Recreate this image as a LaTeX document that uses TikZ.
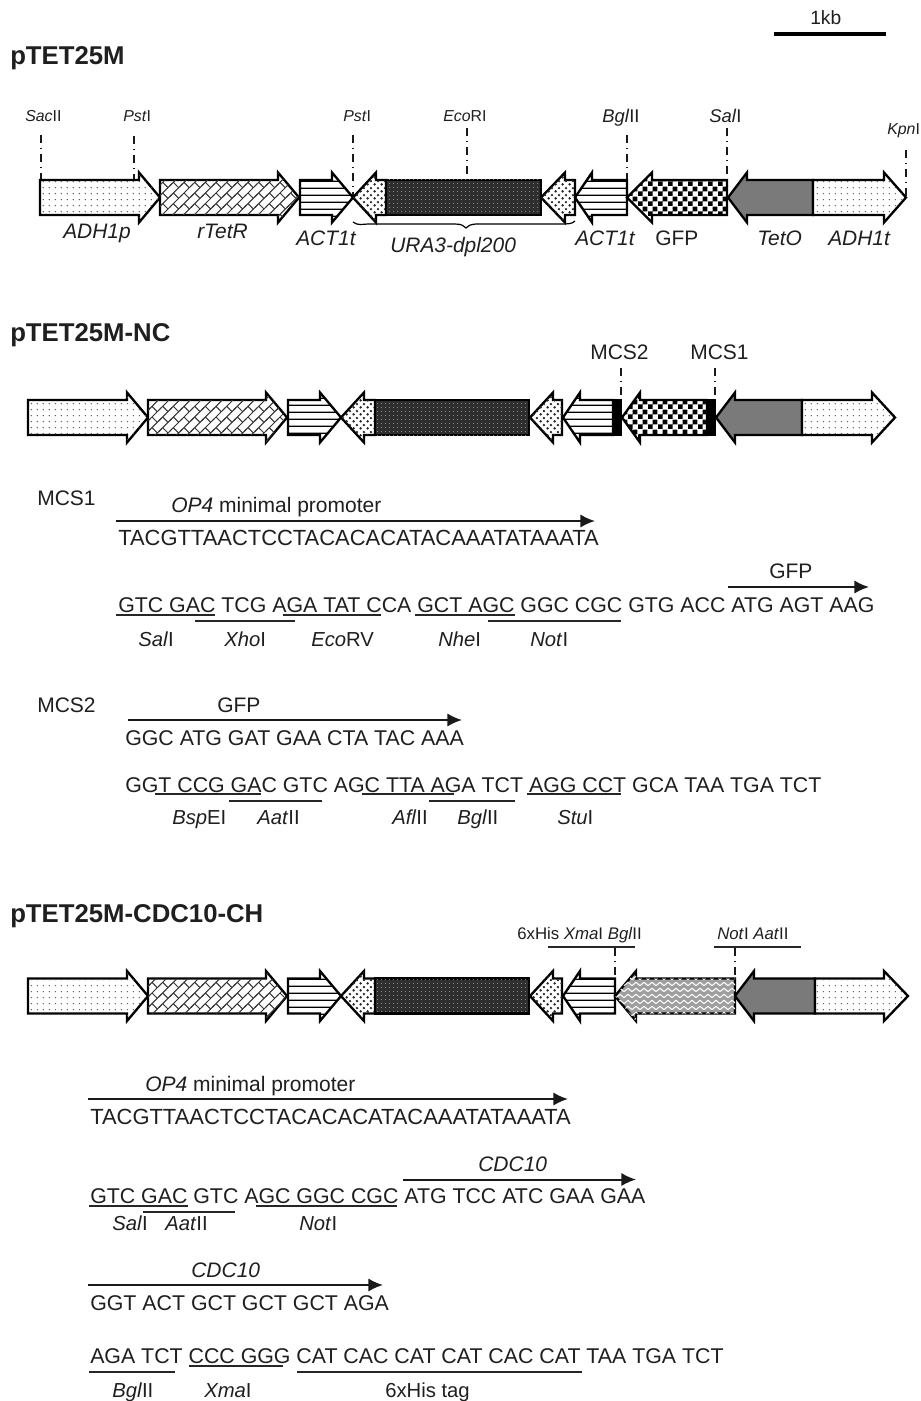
\documentclass[tikz,border=0pt]{standalone}
\usepackage{fontspec}
\setmainfont{Liberation Sans}
\usetikzlibrary{patterns,arrows.meta}
\pgfdeclarepatternformonly{pdots}{\pgfqpoint{-1pt}{-1pt}}{\pgfqpoint{5pt}{5pt}}{\pgfqpoint{4.5pt}{4.5pt}}{
  \pgfpathcircle{\pgfqpoint{1pt}{1pt}}{0.55pt}\pgfusepath{fill}}
\pgfdeclarepatternformonly{pweave}{\pgfqpoint{-1pt}{-3pt}}{\pgfqpoint{9pt}{9pt}}{\pgfqpoint{8pt}{8pt}}{
  \pgfsetlinewidth{0.75pt}
  \pgfpathmoveto{\pgfqpoint{-1pt}{-1pt}}\pgfpathlineto{\pgfqpoint{9pt}{9pt}}
  \pgfpathmoveto{\pgfqpoint{2pt}{2pt}}\pgfpathlineto{\pgfqpoint{6pt}{-2pt}}
  \pgfusepath{stroke}}
\pgfdeclarepatternformonly{phlines}{\pgfqpoint{0pt}{0pt}}{\pgfqpoint{40pt}{5.25pt}}{\pgfqpoint{40pt}{5.25pt}}{
  \pgfpathrectangle{\pgfqpoint{0pt}{1pt}}{\pgfqpoint{40pt}{1pt}}\pgfusepath{fill}}
\pgfdeclarepatternformonly{pcheck}{\pgfqpoint{0pt}{0pt}}{\pgfqpoint{7.6pt}{7.6pt}}{\pgfqpoint{7.6pt}{7.6pt}}{
  \pgfpathrectangle{\pgfqpoint{0pt}{0pt}}{\pgfqpoint{3.8pt}{3.8pt}}
  \pgfpathrectangle{\pgfqpoint{3.8pt}{3.8pt}}{\pgfqpoint{3.8pt}{3.8pt}}\pgfusepath{fill}}
\pgfdeclarepatternformonly{pgrid}{\pgfqpoint{0pt}{0pt}}{\pgfqpoint{3pt}{3pt}}{\pgfqpoint{3pt}{3pt}}{
  \pgfpathcircle{\pgfqpoint{1.5pt}{1.5pt}}{0.5pt}\pgfusepath{fill}}
\pgfdeclarepatternformonly{pbig}{\pgfqpoint{0pt}{0pt}}{\pgfqpoint{5.4pt}{5.4pt}}{\pgfqpoint{5.4pt}{5.4pt}}{
  \pgfpathcircle{\pgfqpoint{1.35pt}{1.35pt}}{1.1pt}
  \pgfpathcircle{\pgfqpoint{4.05pt}{4.05pt}}{1.1pt}\pgfusepath{fill}}
\pgfdeclarepatternformonly{pzig}{\pgfqpoint{0pt}{-1pt}}{\pgfqpoint{6pt}{5pt}}{\pgfqpoint{6pt}{4.5pt}}{
  \pgfsetlinewidth{0.8pt}
  \pgfpathmoveto{\pgfqpoint{0pt}{1pt}}\pgfpathlineto{\pgfqpoint{3pt}{3.5pt}}\pgfpathlineto{\pgfqpoint{6pt}{1pt}}
  \pgfusepath{stroke}}
\tikzset{
  gene/.style={draw=black,line width=1.75pt,miter limit=10},
  fdots/.style={gene,fill=white,postaction={pattern=pdots,pattern color=black!65}},
  fweave/.style={gene,fill=white,postaction={pattern=pweave,pattern color=black!80}},
  fhlines/.style={gene,fill=white,postaction={pattern=phlines,pattern color=black}},
  fcheck/.style={gene,fill=white,postaction={pattern=pcheck,pattern color=black}},
  fdark/.style={gene,fill=black!82,postaction={pattern=pgrid,pattern color=black!45}},
  fbig/.style={gene,fill=white,postaction={pattern=pbig,pattern color=black!85}},
  fgray/.style={gene,fill=black!52},
  fzig/.style={gene,fill=black!38,postaction={pattern=pzig,pattern color=white}},
  txt/.style={inner sep=0pt,anchor=base west,text=black!88},
  head/.style={txt,font=\fontsize{19.3}{22}\selectfont\bfseries},
  seq/.style={txt,font=\fontsize{16}{18}\selectfont},
  acgt/.style={txt,font=\fontsize{16.45}{18}\selectfont},
  label/.style={txt,font=\fontsize{15.75}{18}\selectfont},
  gname/.style={txt,font=\fontsize{15.7}{18}\selectfont},
  enz/.style={txt,font=\fontsize{15.2}{18}\selectfont},
  site/.style={txt,font=\fontsize{11.9}{14}\selectfont},
  midsite/.style={txt,font=\fontsize{13.8}{16}\selectfont},
  uline/.style={line width=1.5pt,draw=black!85},
  seqarrow/.style={line width=1.5pt,draw=black!90,-{Latex[length=11pt,width=10pt]}},
  cutsite/.style={line width=1.4pt,draw=black!90,dash pattern=on 6pt off 3.5pt on 1.2pt off 3.5pt},
}
% tail x, head-base x, tip x, centre y, style
\newcommand{\blockarrow}[5]{\draw[#5,shift={(0,#4)}] (#1,-17.5)--(#2,-17.5)--(#2,-25)--(#3,0)--(#2,25)--(#2,17.5)--(#1,17.5)--cycle;}
\newcommand{\block}[4]{\draw[#4,shift={(0,#3)}] (#1,-17.5) rectangle (#2,17.5);}
\newcommand{\lab}[5]{\node[#1] (#2) at (#3,#4) {#5};}
\newcommand{\cut}[4]{\coordinate (#1a) at (#2,#3); \coordinate (#1b) at (#2,#4); \draw[cutsite] (#1a)--(#1b);}
\newcommand{\sarrow}[4]{\coordinate (#1a) at (#2,#4); \coordinate (#1b) at (#3,#4); \draw[seqarrow] (#1a)--(#1b);}
\newcommand{\ul}[4]{\coordinate (#1a) at (#2,#4); \coordinate (#1b) at (#3,#4); \draw[uline] (#1a)--(#1b);}
\begin{document}
\begin{tikzpicture}[x=0.75pt,y=-0.75pt]
\useasboundingbox (0,0) rectangle (920,1401);
\fill[white] (0,0) rectangle (920,1401);
% scale
\lab{txt,font=\fontsize{14.4}{16}\selectfont}{kb}{810}{25}{1kb}
\coordinate (sa) at (774,34); \coordinate (sb) at (886,34);
\draw[line width=2.6pt] (sa)--(sb);
% ---------- construct 1
\lab{head}{h1}{10}{65}{pTET25M}
\cut{c1}{41}{135}{180}\cut{c2}{134}{136}{180}\cut{c3}{353}{135}{197}\cut{c4}{467}{128}{180}
\cut{c5}{627}{135}{180}\cut{c6}{727}{128}{180}\cut{c7}{906}{150}{197}
\blockarrow{40}{139}{160}{197.5}{fdots}
\blockarrow{160}{278}{299}{197.5}{fweave}
\blockarrow{300}{332}{353}{197.5}{fhlines}
\blockarrow{386}{376}{353}{197.5}{fbig}
\block{386}{541}{197.5}{fdark}
\blockarrow{575}{565}{541}{197.5}{fbig}
\blockarrow{627}{592}{575}{197.5}{fhlines}
\blockarrow{727}{652}{627}{197.5}{fcheck}
\blockarrow{813}{747}{728}{197.5}{fgray}
\blockarrow{813}{884}{906}{197.5}{fdots}
\draw[line width=0.9pt] (353,222) .. controls (358,226) and (362,224) .. (370,224) -- (455,224) .. controls (462,224) and (464,226) .. (466,228) .. controls (468,226) and (470,224) .. (478,224) -- (560,224) .. controls (568,224) and (572,224) .. (575,221);
\lab{site}{a1}{25}{122}{\textit{Sac}II}
\lab{site}{a2}{123}{122}{\textit{Pst}I}
\lab{site}{a3}{343}{122}{\textit{Pst}I}
\lab{site}{a4}{443}{122}{\textit{Eco}RI}
\lab{midsite}{a5}{602}{123}{\textit{Bgl}II}
\lab{midsite}{a6}{709}{123}{\textit{Sal}I}
\lab{site}{a7}{887}{135}{\textit{Kpn}I}
\lab{gname}{g1}{63}{239}{\textit{ADH1p}}
\lab{gname}{g2}{197}{239}{\textit{rTetR}}
\lab{gname}{g3}{296}{246}{\textit{ACT1t}}
\lab{gname}{g4}{390}{253}{\textit{URA3-dpl200}}
\lab{gname}{g5}{575}{246}{\textit{ACT1t}}
\lab{gname}{g6}{655}{246}{GFP}
\lab{gname}{g7}{757}{246}{\textit{TetO}}
\lab{gname}{g8}{828}{246}{\textit{ADH1t}}
% ---------- construct 2
\lab{head}{h2}{10}{341}{pTET25M-NC}
\lab{label}{m2}{590}{359}{MCS2}
\lab{label}{m1}{690}{359}{MCS1}
\cut{d1}{621}{368}{400}\cut{d2}{715}{368}{400}
\blockarrow{28}{127}{148}{417.5}{fdots}
\blockarrow{148}{266}{287}{417.5}{fweave}
\blockarrow{288}{320}{341}{417.5}{fhlines}
\blockarrow{375}{364}{341}{417.5}{fbig}
\block{375}{529}{417.5}{fdark}
\blockarrow{562}{553}{530}{417.5}{fbig}
\blockarrow{613}{580}{563}{417.5}{fhlines}
\block{613}{621}{417.5}{gene,fill=black}
\blockarrow{707}{640}{622}{417.5}{fcheck}
\block{707}{715}{417.5}{gene,fill=black}
\blockarrow{802}{735}{716}{417.5}{fgray}
\blockarrow{802}{872}{895}{417.5}{fdots}
% MCS1
\lab{label}{t1}{37}{505}{MCS1}
\lab{label}{t2}{171}{512}{\textit{OP4} minimal promoter}
\sarrow{e1}{116}{595}{521}
\lab{acgt}{t3}{118}{545}{TACGTTAACTCCTACACACATACAAATATAAATA}
\lab{label}{t4}{769}{578}{GFP}
\sarrow{e2}{728}{869}{587}
\lab{seq}{t5}{118}{612}{GTC GAC TCG AGA TAT CCA GCT AGC GGC CGC GTG ACC ATG AGT AAG}
\ul{u1}{116}{215}{614.5}\ul{u2}{283}{381}{614.5}\ul{u3}{415}{515}{614.5}
\ul{u4}{195}{295}{620.5}\ul{u5}{488}{621}{620.5}
\lab{enz}{n1}{138}{646}{\textit{Sal}I}
\lab{enz}{n2}{224}{646}{\textit{Xho}I}
\lab{enz}{n3}{311}{646}{\textit{Eco}RV}
\lab{enz}{n4}{438}{646}{\textit{Nhe}I}
\lab{enz}{n5}{530}{646}{\textit{Not}I}
% MCS2
\lab{label}{t6}{37}{712}{MCS2}
\lab{label}{t7}{217}{712}{GFP}
\sarrow{e3}{128}{462}{720}
\lab{seq}{t8}{125}{745}{GGC ATG GAT GAA CTA TAC AAA}
\lab{seq}{t9}{125}{792}{GGT CCG GAC GTC AGC TTA AGA TCT AGG CCT GCA TAA TGA TCT}
\ul{u6}{155}{261}{794}\ul{u7}{362}{454}{794}\ul{u8}{527}{621}{794}
\ul{u9}{229}{322}{800.5}\ul{u10}{429}{515}{800.5}
\lab{enz}{n6}{172}{824}{\textit{Bsp}EI}
\lab{enz}{n7}{257}{824}{\textit{Aat}II}
\lab{enz}{n8}{392}{824}{\textit{Afl}II}
\lab{enz}{n9}{457}{824}{\textit{Bgl}II}
\lab{enz}{n10}{557}{824}{\textit{Stu}I}
% ---------- construct 3
\lab{head}{h3}{10}{922}{pTET25M-CDC10-CH}
\lab{txt,font=\fontsize{12.6}{15}\selectfont}{b1}{517}{939}{6xHis \textit{Xma}I \textit{Bgl}II}
\lab{txt,font=\fontsize{12.6}{15}\selectfont}{b2}{717}{939}{\textit{Not}I \textit{Aat}II}
\ul{v1}{548}{635}{946.5}\ul{v2}{714}{801}{946.5}
\cut{f1}{615}{948}{979}\cut{f2}{735}{948}{979}
\blockarrow{28}{127}{148}{996}{fdots}
\blockarrow{148}{266}{287}{996}{fweave}
\blockarrow{288}{320}{341}{996}{fhlines}
\blockarrow{375}{364}{341}{996}{fbig}
\block{375}{529}{996}{fdark}
\blockarrow{562}{553}{530}{996}{fbig}
\blockarrow{615}{580}{563}{996}{fhlines}
\blockarrow{735}{636}{615}{996}{fzig}
\blockarrow{815}{754}{735}{996}{fgray}
\blockarrow{815}{884}{908}{996}{fdots}
\lab{label}{s1}{145}{1091}{\textit{OP4} minimal promoter}
\sarrow{w1}{88}{568}{1099}
\lab{acgt}{s2}{90}{1124}{TACGTTAACTCCTACACACATACAAATATAAATA}
\lab{label}{s3}{478}{1171}{\textit{CDC10}}
\sarrow{w2}{403}{636}{1179.5}
\lab{seq}{s4}{90}{1203}{GTC GAC GTC AGC GGC CGC ATG TCC ATC GAA GAA}
\ul{x1}{89}{188}{1206}\ul{x2}{256}{397}{1206}\ul{x3}{143}{235}{1212}
\lab{enz}{k1}{112}{1230}{\textit{Sal}I}
\lab{enz}{k2}{165}{1230}{\textit{Aat}II}
\lab{enz}{k3}{299}{1230}{\textit{Not}I}
\lab{label}{s5}{191}{1277}{\textit{CDC10}}
\sarrow{w3}{88}{383}{1285}
\lab{seq}{s6}{90}{1310}{GGT ACT GCT GCT GCT AGA}
\lab{seq}{s7}{90}{1363}{AGA TCT CCC GGG CAT CAC CAT CAT CAC CAT TAA TGA TCT}
\ul{x4}{89}{175}{1372}\ul{x5}{189}{283}{1365.5}\ul{x6}{297}{582}{1372}
\lab{enz}{k4}{112}{1397}{\textit{Bgl}II}
\lab{enz}{k5}{204}{1397}{\textit{Xma}I}
\lab{enz}{k6}{385}{1397}{6xHis tag}
\end{tikzpicture}
\end{document}
